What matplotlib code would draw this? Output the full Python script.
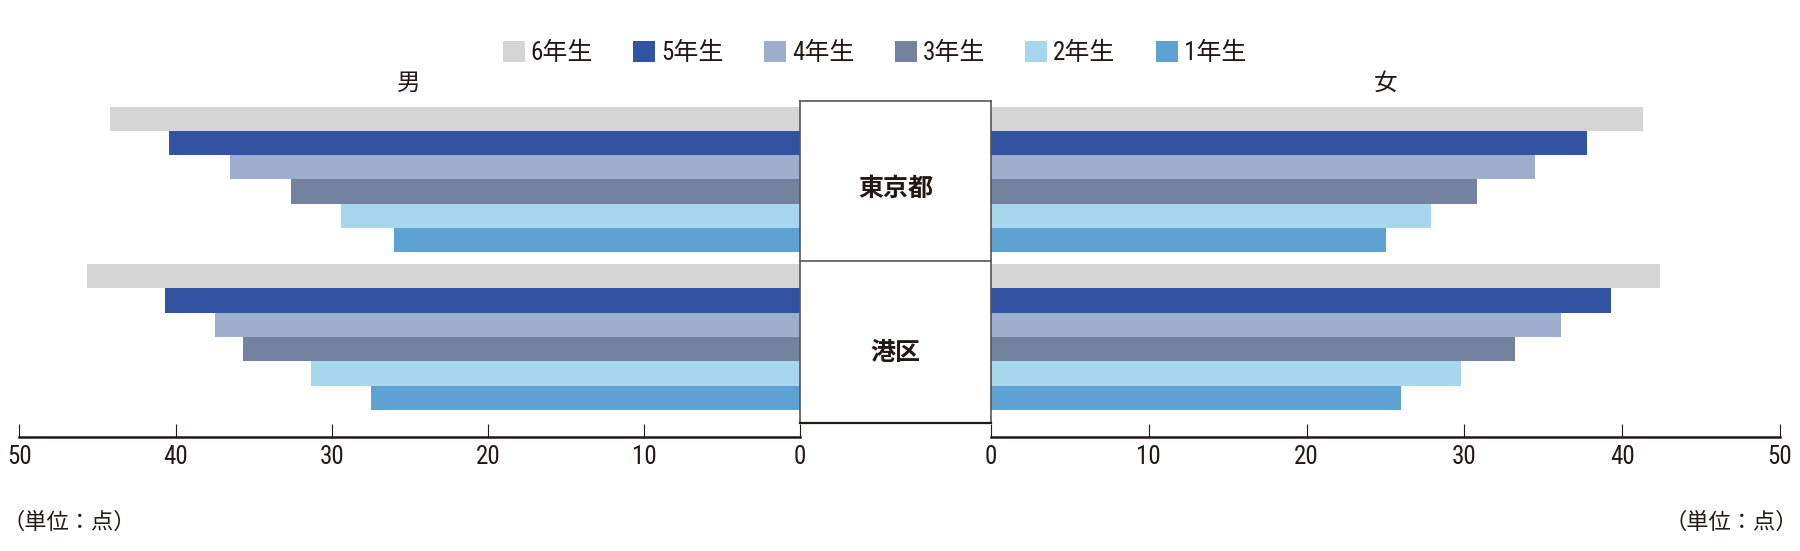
import matplotlib.pyplot as plt

grades = ['6年生', '5年生', '4年生', '3年生', '2年生', '1年生']
colors = ['#d5d5d5', '#3253a1', '#9caecc', '#73829f', '#a7d7ed', '#5ea1d3']
regions = ['東京都', '港区']
male = {'東京都': [44.2, 40.4, 36.5, 32.6, 29.4, 26.0],
        '港区': [45.7, 40.7, 37.5, 35.7, 31.3, 27.5]}
female = {'東京都': [41.3, 37.8, 34.5, 30.8, 27.9, 25.0],
          '港区': [42.4, 39.3, 36.1, 33.2, 29.8, 26.0]}
ticks = [0, 10, 20, 30, 40, 50]

jp = ['Noto Sans CJK JP', 'DejaVu Sans']
mixed = ['Roboto Condensed', 'Noto Sans CJK JP', 'DejaVu Sans']
plt.rcParams['font.family'] = jp
dark = '#231815'

W, H = 1800, 551
fig = plt.figure(figsize=(18, 5.51), dpi=100)

def fx(px):
	return px / W

def fy(py):
	return 1 - py / H

top, bottom = 101, 437
unit = 24.3
ymax = (bottom - top) / unit
starts = [(106.5 - top) / unit, (264 - top) / unit]

axL = fig.add_axes([fx(19.5), fy(bottom), fx(800 - 19.5), (bottom - top) / H])
axR = fig.add_axes([fx(991), fy(bottom), fx(1780 - 991), (bottom - top) / H])
axM = fig.add_axes([fx(800), fy(bottom), fx(991 - 800), (bottom - top) / H])

handles = []
for g, reg in enumerate(regions):
	for i in range(len(grades)):
		y = starts[g] + i + 0.5
		b = axL.barh(y, male[reg][i], height=1.0, color=colors[i], linewidth=0)
		axR.barh(y, female[reg][i], height=1.0, color=colors[i], linewidth=0)
		if g == 0:
			handles.append(b)

for ax in (axL, axR):
	ax.set_ylim(ymax, 0)
	ax.set_yticks([])
	for s in ('top', 'left', 'right'):
		ax.spines[s].set_visible(False)
	ax.spines['bottom'].set_color(dark)
	ax.spines['bottom'].set_linewidth(1.8)
	ax.set_xticks(ticks)
	ax.tick_params(axis='x', direction='in', length=9.5, width=0.8, color=dark,
		pad=6, labelsize=18, labelcolor=dark)
	for lab in ax.get_xticklabels():
		lab.set_family('Roboto Condensed')
axL.set_xlim(50, 0)
axR.set_xlim(0, 50)

# center box
axM.set_xlim(0, 1)
axM.set_ylim(ymax, 0)
axM.axis('off')
box_bot = (423 - top) / unit
mid = (261 - top) / unit
lc = '#555555'
axM.plot([0, 0], [0, box_bot], color=lc, lw=1.2, clip_on=False)
axM.plot([1, 1], [0, box_bot], color=lc, lw=1.2, clip_on=False)
axM.plot([0, 1], [0, 0], color=lc, lw=1.2, clip_on=False)
axM.plot([0, 1], [mid, mid], color=lc, lw=1.2, clip_on=False)
axM.plot([0, 1], [box_bot, box_bot], color=dark, lw=1.6, clip_on=False)
axM.text(0.5, (189 - top) / unit, regions[0], ha='center', va='center',
	fontsize=18, fontweight='bold', color=dark)
axM.text(0.5, (353 - top) / unit, regions[1], ha='center', va='center',
	fontsize=18, fontweight='bold', color=dark)

fig.text(fx(409), fy(83), '男', ha='center', va='center', fontsize=17, color=dark)
fig.text(fx(1386), fy(83), '女', ha='center', va='center', fontsize=17, color=dark)

fig.text(fx(2), fy(522), '（単位：点）', ha='left', va='center', fontsize=16, color=dark)
fig.text(fx(1798), fy(522), '（単位：点）', ha='right', va='center', fontsize=16, color=dark)

leg = fig.legend(handles, grades, loc='center', bbox_to_anchor=(fx(874.5), fy(53)), ncol=6,
	frameon=False, fontsize=18, handlelength=0.88, handleheight=0.88,
	handletextpad=0.25, columnspacing=1.6, labelcolor=dark)
for t in leg.get_texts():
	t.set_family(mixed)

fig.savefig('out.png', dpi=100)
